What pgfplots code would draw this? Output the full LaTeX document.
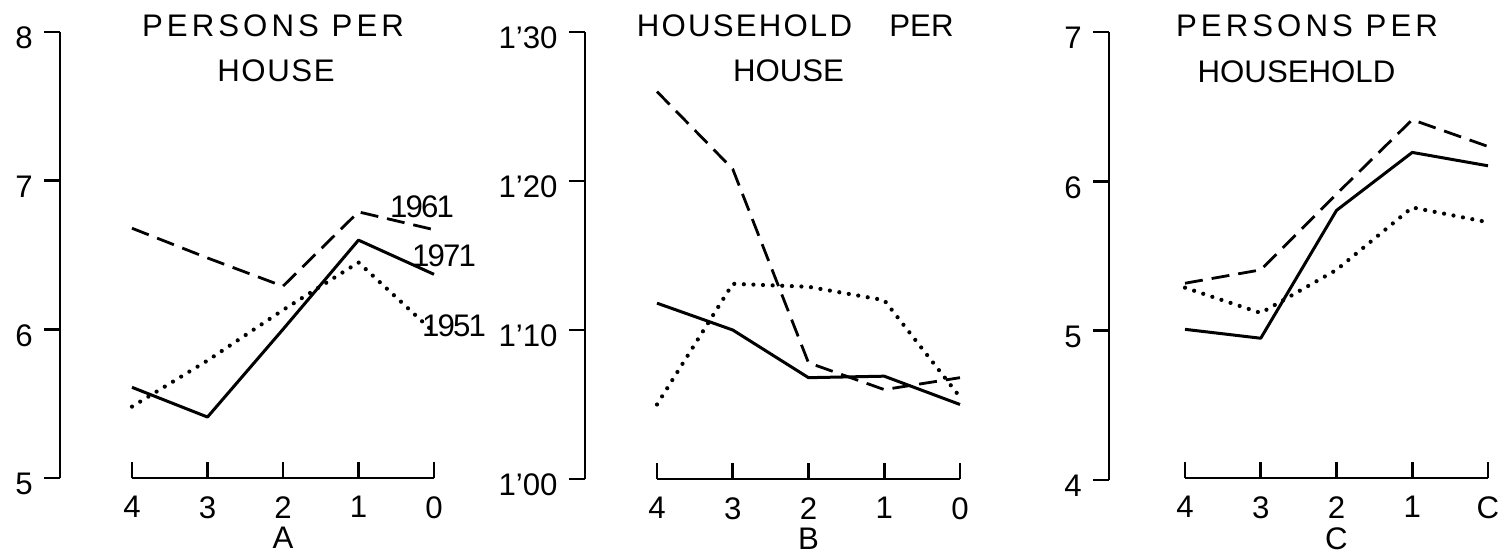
\documentclass[border=0pt]{standalone}
\usepackage{fontspec}
\setmainfont{Liberation Sans}
\usepackage{pgfplots}
\pgfplotsset{compat=1.18}

\newcommand{\fs}{\fontsize{15.6}{18}\selectfont}

\pgfplotsset{
  yax/.style={scale only axis, width=1pt, xmin=0, xmax=1, anchor=south west,
    axis x line=none, axis y line=left, xtick=\empty,
    axis line style={-, line width=1.4pt},
    tick style={black, line width=1.4pt},
    tick align=outside, major tick length=8pt,
    yticklabel style={font=\fs, inner sep=0pt, xshift=-5.5pt, yshift=-3pt}},
  xax/.style={scale only axis, width=151pt, xmin=0, xmax=4, x dir=reverse,
    anchor=south west, clip=false,
    axis y line=none, axis x line=bottom, ytick=\empty,
    axis line style={-, line width=1.4pt},
    tick style={black, line width=1.4pt},
    tick align=inside, major tick length=8pt, xtick={0,1,2,3,4},
    xticklabel style={font=\fs, inner sep=0pt, yshift=-9pt},
    xlabel style={font=\fs, inner sep=0pt, at={(axis description cs:0.5,0)},
      anchor=north, yshift=-24.5pt}},
  solidl/.style={black, line width=1.5pt, line join=round},
  dashl/.style={black, line width=1.4pt, dash pattern=on 9pt off 4.5pt},
  dotl/.style={black, line width=2.1pt, line cap=round, dash pattern=on 0pt off 4.8pt},
}

\begin{document}
\begin{tikzpicture}
\path[use as bounding box] (0,0) rectangle (749.5pt,278pt);

% ---- A ----
\begin{axis}[yax, at={(30pt,39pt)}, height=223pt, ymin=5, ymax=8,
  ytick={5,6,7,8}, yticklabels={5,6,7,8}]
\end{axis}
\begin{axis}[xax, at={(66pt,39pt)}, height=223pt, ymin=5, ymax=8,
  xticklabels={0,1,2,3,4}, xlabel={A}]
\addplot[dashl] coordinates {(4,6.68) (3,6.48) (2,6.29) (1,6.79) (0,6.67)};
\addplot[solidl] coordinates {(4,5.61) (3,5.41) (2,6.00) (1,6.60) (0,6.37)};
\addplot[dotl] coordinates {(4,5.48) (3,5.79) (2,6.13) (1,6.45) (0,5.98)};
\end{axis}

% ---- B ----
\begin{axis}[yax, at={(292.5pt,38.5pt)}, height=223.5pt, ymin=1.0, ymax=1.3,
  ytick={1.0,1.1,1.2,1.3}, yticklabels={1'00,1'10,1'20,1'30}]
\end{axis}
\begin{axis}[xax, at={(328.5pt,38.5pt)}, width=151.5pt, height=223.5pt, ymin=1.0, ymax=1.3,
  xticklabels={0,1,2,3,4}, xlabel={B}]
\addplot[dashl] coordinates {(4,1.260) (3,1.208) (2,1.078) (1,1.060) (0,1.068)};
\addplot[solidl] coordinates {(4,1.118) (3,1.100) (2,1.068) (1,1.069) (0,1.050)};
\addplot[dotl] coordinates {(4,1.050) (3,1.131) (2,1.129) (1,1.120) (0,1.055)};
\end{axis}

% ---- C ----
\begin{axis}[yax, at={(554.5pt,38pt)}, height=224pt, ymin=4, ymax=7,
  ytick={4,5,6,7}, yticklabels={4,5,6,7}]
\end{axis}
\begin{axis}[xax, at={(592.5pt,39pt)}, width=151.5pt, height=223pt, ymin=4, ymax=7,
  xticklabels={C,1,2,3,4}, xlabel={C}]
\addplot[dashl] coordinates {(4,5.31) (3,5.40) (2,5.91) (1,6.41) (0,6.23)};
\addplot[solidl] coordinates {(4,5.00) (3,4.94) (2,5.80) (1,6.19) (0,6.10)};
\addplot[dotl] coordinates {(4,5.28) (3,5.11) (2,5.40) (1,5.82) (0,5.72)};
\end{axis}

% titles
\node[font=\fs, anchor=base, inner sep=0pt] at (136.5pt,259.5pt) {\addfontfeature{LetterSpace=13}PERSONS PER};
\node[font=\fs, anchor=base, inner sep=0pt] at (138pt,237pt) {\addfontfeature{LetterSpace=5}HOUSE};
\node[font=\fs, anchor=base, inner sep=0pt] at (372.25pt,259.5pt) {\addfontfeature{LetterSpace=7}HOUSEHOLD};
\node[font=\fs, anchor=base, inner sep=0pt] at (460.75pt,259.5pt) {PER};
\node[font=\fs, anchor=base, inner sep=0pt] at (394.25pt,237pt) {HOUSE};
\node[font=\fs, anchor=base, inner sep=0pt] at (653.5pt,259.5pt) {\addfontfeature{LetterSpace=13}PERSONS PER};
\node[font=\fs, anchor=base, inner sep=0pt] at (648.25pt,236.5pt) {HOUSEHOLD};

% year labels
\node[font=\fs, anchor=base, inner sep=0pt] at (211pt,169pt) {\addfontfeature{LetterSpace=-6}1961};
\node[font=\fs, anchor=base, inner sep=0pt] at (222pt,144.5pt) {\addfontfeature{LetterSpace=-6}1971};
\node[font=\fs, anchor=base, inner sep=0pt] at (227pt,109.5pt) {\addfontfeature{LetterSpace=-6}1951};
\end{tikzpicture}
\end{document}
